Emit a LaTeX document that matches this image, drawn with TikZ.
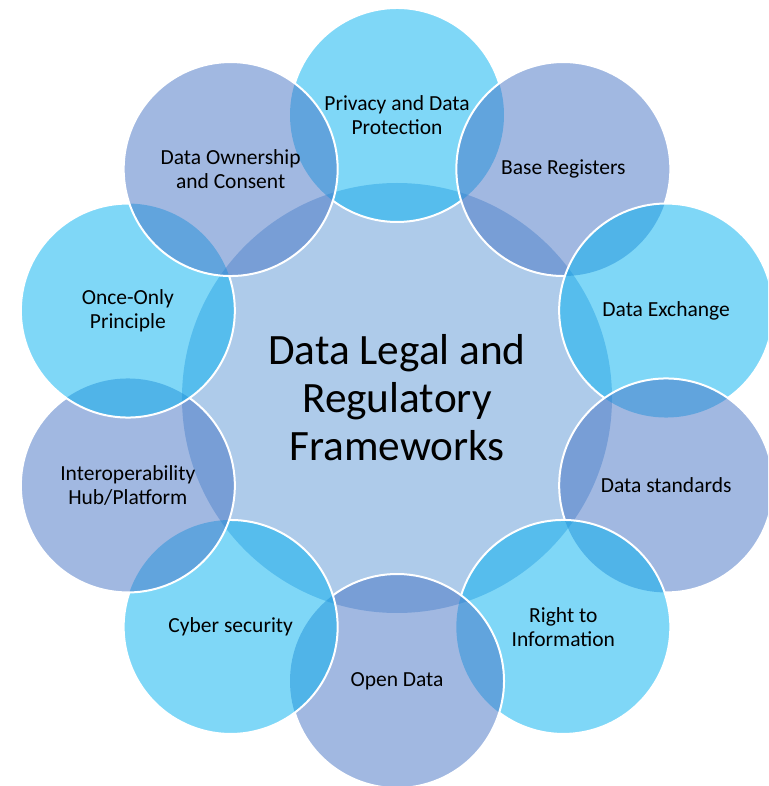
\documentclass[tikz,border=0pt]{standalone}
\usepackage{fontspec}
\setmainfont{Carlito}
\definecolor{centralc}{RGB}{174,203,234}
\definecolor{bluec}{RGB}{0,176,240}
\definecolor{lavc}{RGB}{68,114,196}
\begin{document}
\begin{tikzpicture}[x=1pt,y=1pt,
  outer/.style={circle, minimum size=214pt, inner sep=0pt, fill opacity=0.5, text opacity=1,
    align=center, font=\fontsize{21.5}{24}\selectfont, text=black},
  bluecirc/.style={outer, fill=bluec},
  lavcirc/.style={outer, fill=lavc},
  rim/.style={draw=white, line width=2pt},
]
\useasboundingbox (-397,-388) rectangle (371,398);
\clip (-397,-388) rectangle (371,398);
\node[circle, minimum size=430pt, inner sep=0pt, fill=centralc, align=center,
  font=\fontsize{43.3}{48}\selectfont] (hub) at (0,0) {Data Legal and\\Regulatory\\Frameworks};
% 0
\node[bluecirc] (c0) at (90:283) {Privacy and Data\\Protection};
\draw[rim] (c0.center) ++(17.1:107) arc[start angle=17.1, end angle=162.9, radius=107];
\draw[rim] (c0.center) ++(233.1:107) arc[start angle=233.1, end angle=306.9, radius=107];
% 1
\node[lavcirc] (c1) at (54:283) {Base Registers};
\draw[rim] (c1.center) ++(-18.9:107) arc[start angle=-18.9, end angle=270.9, radius=107];
% 2
\node[bluecirc] (c2) at (18:283) {Data Exchange};
\draw[rim] (c2.center) ++(-54.9:107) arc[start angle=-54.9, end angle=234.9, radius=107];
% 3
\node[lavcirc] (c3) at (-18:283) {Data standards};
\draw[rim] (c3.center) ++(-90.9:107) arc[start angle=-90.9, end angle=198.9, radius=107];
% 4
\node[bluecirc] (c4) at (-54:283) {Right to\\Information};
\draw[rim] (c4.center) ++(-126.9:107) arc[start angle=-126.9, end angle=162.9, radius=107];
% 5
\node[lavcirc] (c5) at (-90:283) {Open Data};
\draw[rim] (c5.center) ++(-162.9:107) arc[start angle=-162.9, end angle=126.9, radius=107];
% 6
\node[bluecirc] (c6) at (-126:283) {Cyber security};
\draw[rim] (c6.center) ++(-198.9:107) arc[start angle=-198.9, end angle=90.9, radius=107];
% 7
\node[lavcirc] (c7) at (-162:283) {Interoperability\\Hub/Platform};
\draw[rim] (c7.center) ++(-234.9:107) arc[start angle=-234.9, end angle=54.9, radius=107];
% 8
\node[bluecirc] (c8) at (162:283) {Once-Only\\Principle};
\draw[rim] (c8.center) ++(89.1:107) arc[start angle=89.1, end angle=378.9, radius=107];
% 9
\node[lavcirc] (c9) at (126:283) {Data Ownership\\and Consent};
\draw[rim] (c9.center) circle[radius=107];
\end{tikzpicture}
\end{document}
